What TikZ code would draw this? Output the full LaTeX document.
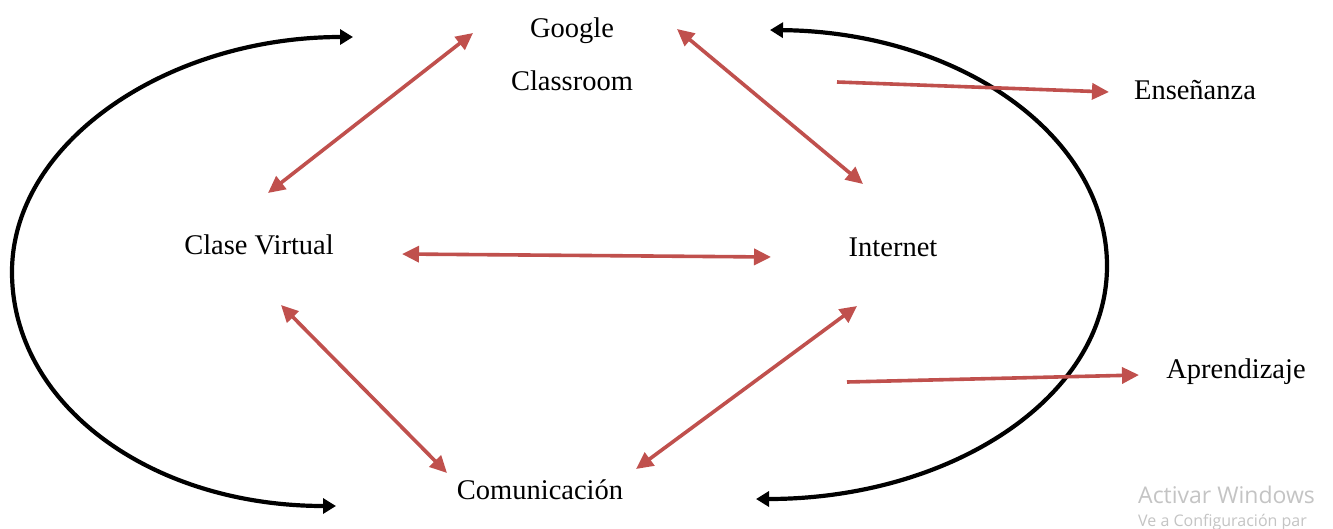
\documentclass[tikz,border=0pt]{standalone}
\usepackage{fontspec}
\setmainfont{Liberation Serif}
\newfontfamily\wmfont{Open Sans}
\usetikzlibrary{arrows.meta}
\definecolor{redc}{RGB}{192,80,77}
\definecolor{wmgray}{RGB}{196,196,196}
\begin{document}
\begin{tikzpicture}[x=1pt,y=-1pt,
  lbl/.style={anchor=base,inner sep=0pt,font=\fontsize{28.5}{34}\selectfont},
  redboth/.style={draw=redc,line width=3.6pt,{Triangle[length=17pt,width=16pt]}-{Triangle[length=17pt,width=16pt]}},
  redone/.style={draw=redc,line width=3.6pt,-{Triangle[length=17pt,width=16pt]}},
  blackboth/.style={draw=black,line width=4.2pt,{Triangle[length=13pt,width=15pt]}-{Triangle[length=13pt,width=15pt]}},
  wm/.style={anchor=base west,inner sep=0pt,text=wmgray}]
\useasboundingbox[fill=white] (0,0) rectangle (1333,528);

% labels
\node[lbl] (google) at (572,37) {Google};
\node[lbl] (classroom) at (572,90) {Classroom};
\node[lbl] (clase) at (259,254) {Clase Virtual};
\node[lbl] (internet) at (893,256) {Internet};
\node[lbl] (ense) at (1195,99) {Enseñanza};
\node[lbl] (apre) at (1236,378) {Aprendizaje};
\node[lbl] (comu) at (540,499) {Comunicación};

% arrow end points
\coordinate (a1s) at (268,193); \coordinate (a1e) at (473,33);
\coordinate (a2s) at (677,29);  \coordinate (a2e) at (863,184);
\coordinate (a3s) at (402,254); \coordinate (a3e) at (771,257);
\coordinate (a4s) at (281,305); \coordinate (a4e) at (447,473);
\coordinate (a5s) at (857,306); \coordinate (a5e) at (636,469);
\coordinate (a6s) at (837,82);  \coordinate (a6e) at (1109,92);
\coordinate (a7s) at (847,382); \coordinate (a7e) at (1139,375);

% black loops
\coordinate (lt) at (353,37); \coordinate (ll) at (12,272); \coordinate (lb) at (336,506);
\coordinate (rt) at (770,30); \coordinate (rr) at (1107,266); \coordinate (rb) at (756,499);

\draw[blackboth] (lt) .. controls (168,37) and (12,142) .. (ll)
                      .. controls (12,404) and (150,506) .. (lb);
\draw[blackboth] (rt) .. controls (960,32) and (1107,136) .. (rr)
                      .. controls (1107,398) and (950,499) .. (rb);

% red connectors
\draw[redboth] (a1s) -- (a1e);
\draw[redboth] (a2s) -- (a2e);
\draw[redboth] (a3s) -- (a3e);
\draw[redboth] (a4s) -- (a4e);
\draw[redboth] (a5s) -- (a5e);
\draw[redone] (a6s) -- (a6e);
\draw[redone] (a7s) -- (a7e);

% watermark
\node[wm,font=\wmfont\fontsize{23}{26}\selectfont] (act) at (1138,503) {Activar Windows};
\node[wm,font=\wmfont\fontsize{16}{19}\selectfont] (conf) at (1138,526) {Ve a Configuración par};
\end{tikzpicture}
\end{document}
